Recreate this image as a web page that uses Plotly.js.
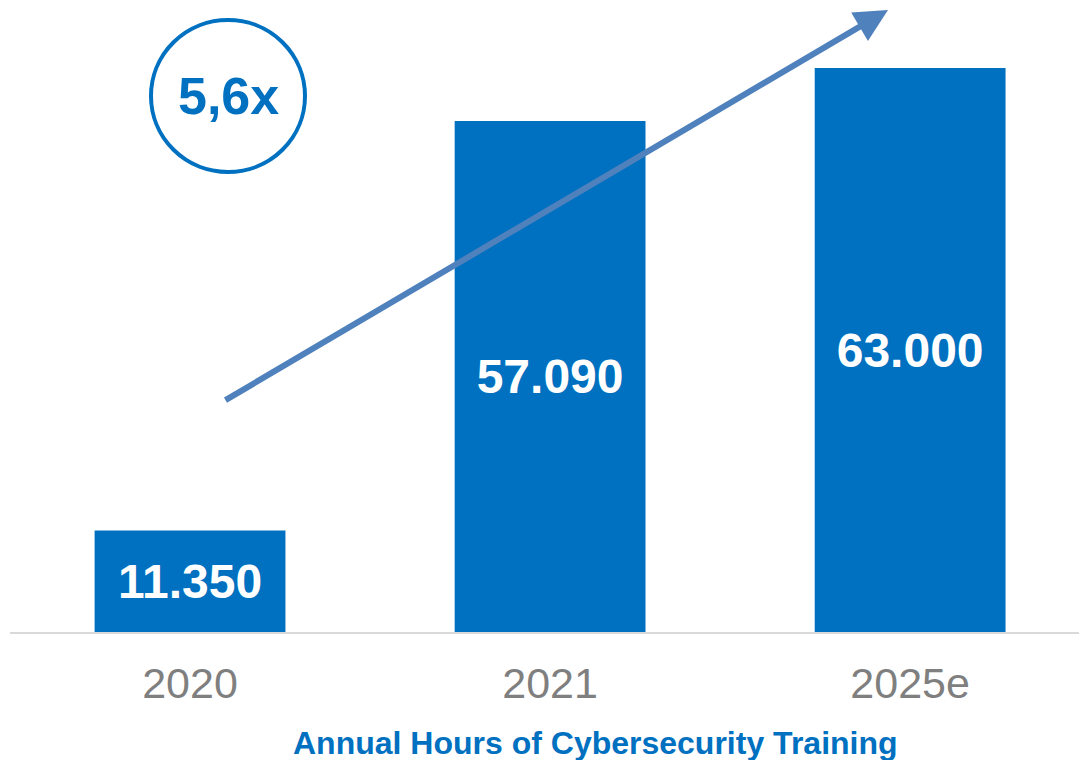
<!DOCTYPE html>
<html>
<head>
<meta charset="utf-8">
<script src="https://cdn.plot.ly/plotly-3.0.1.min.js"></script>
<style>html,body{margin:0;padding:0;background:#fff;}#chart{width:1079px;height:760px;}</style>
</head>
<body>
<div id="chart"></div>
<script>
const categories = ['2020', '2021', '2025e'];
const hours = [11350, 57090, 63000];
const valueLabels = ['11.350', '57.090', '63.000'];
const growthLabel = '5,6x';
const chartTitle = 'Annual Hours of Cybersecurity Training';

const W = 1079, H = 760;
const L = 10, R = 0, T = 0, B = 128;
const pw = W - L - R, ph = H - T - B;
const px = v => (v - L) / pw;
const py = v => (H - B - v) / ph;

const trace = {
  type: 'bar',
  x: categories,
  y: hours,
  text: valueLabels,
  textposition: 'inside',
  insidetextanchor: 'middle',
  constraintext: 'none',
  textfont: {family: 'Liberation Sans, Arial, sans-serif', size: 48, color: '#ffffff', weight: 'bold'},
  marker: {color: '#0070c0', line: {width: 0}},
  width: 0.53,
  hoverinfo: 'none'
};

const layout = {
  width: W, height: H,
  margin: {l: L, r: R, t: T, b: B, pad: 0},
  paper_bgcolor: '#ffffff',
  plot_bgcolor: '#ffffff',
  showlegend: false,
  font: {family: 'Liberation Sans, Arial, sans-serif'},
  xaxis: {
    type: 'category',
    range: [-0.5, 2.469],
    showgrid: false,
    zeroline: false,
    showline: true,
    linecolor: '#d9d9d9',
    linewidth: 2,
    ticks: '',
    ticklabelstandoff: 12,
    tickfont: {family: 'Liberation Sans, Arial, sans-serif', size: 43, color: '#7f7f7f'}
  },
  yaxis: {
    range: [0, 70600],
    visible: false,
    showgrid: false,
    zeroline: false,
    fixedrange: true
  },
  shapes: [{
    type: 'circle',
    xref: 'paper', yref: 'paper',
    x0: px(151), x1: px(305),
    y0: py(172), y1: py(20),
    line: {color: '#0070c0', width: 4},
    fillcolor: 'rgba(0,0,0,0)'
  }],
  annotations: [
    {
      xref: 'paper', yref: 'paper',
      x: px(228), y: py(96),
      text: growthLabel,
      showarrow: false,
      xanchor: 'center', yanchor: 'middle',
      font: {family: 'Liberation Sans, Arial, sans-serif', size: 52, color: '#0070c0', weight: 'bold'}
    },
    {
      xref: 'paper', yref: 'paper',
      x: px(888), y: py(10),
      ax: 224 - 888, ay: 401 - 10,
      axref: 'pixel', ayref: 'pixel',
      text: '',
      showarrow: true,
      arrowhead: 2,
      arrowsize: 1.1,
      arrowwidth: 6,
      arrowcolor: '#4f81bd',
      standoff: 0
    },
    {
      xref: 'paper', yref: 'paper',
      x: px(595), y: py(743),
      text: '<b>' + chartTitle + '</b>',
      showarrow: false,
      xanchor: 'center', yanchor: 'middle',
      font: {family: 'Liberation Sans, Arial, sans-serif', size: 32, color: '#0070c0'}
    }
  ]
};

Plotly.newPlot('chart', [trace], layout, {displayModeBar: false, staticPlot: true});
</script>
</body>
</html>
